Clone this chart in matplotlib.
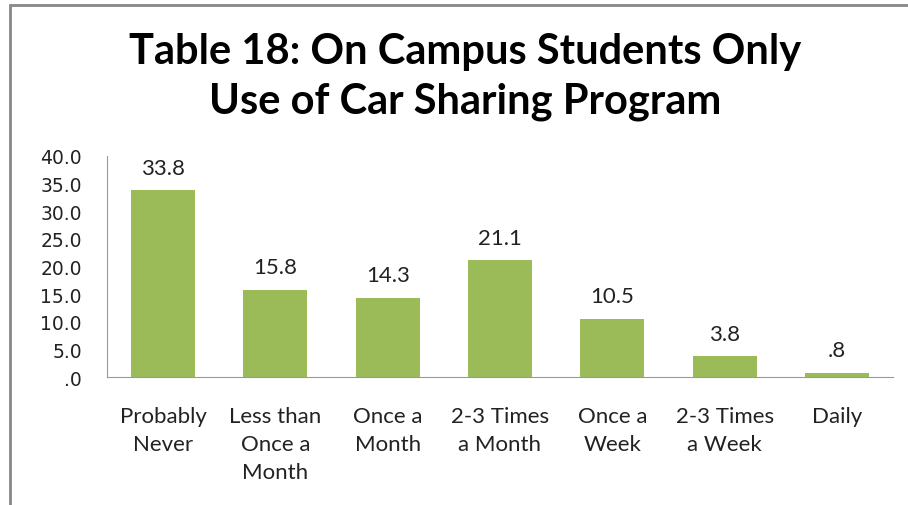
import matplotlib.pyplot as plt
from matplotlib.patches import Rectangle

categories = ["Probably\nNever", "Less than\nOnce a\nMonth", "Once a\nMonth",
              "2-3 Times\na Month", "Once a\nWeek", "2-3 Times\na Week", "Daily"]
values = [33.8, 15.8, 14.3, 21.1, 10.5, 3.8, 0.8]
value_labels = ["33.8", "15.8", "14.3", "21.1", "10.5", "3.8", ".8"]
y_ticks = [0, 5, 10, 15, 20, 25, 30, 35, 40]
y_tick_labels = [".0", "5.0", "10.0", "15.0", "20.0", "25.0", "30.0", "35.0", "40.0"]

W, H = 908, 506
fig = plt.figure(figsize=(W / 100, H / 100), dpi=100)

# outer frame (cut off on the right and bottom)
fig.patches.append(Rectangle((10 / W, -0.1), 1.2, (H - 6) / H + 0.1,
                             transform=fig.transFigure, fill=False,
                             edgecolor="#888888", linewidth=2))

ax = fig.add_axes([107 / W, (H - 378) / H, (893 - 107) / W, (378 - 157) / H])
x = range(len(categories))
ax.bar(x, values, width=0.57, color="#9BBB59")
ax.set_xlim(-0.5, len(categories) - 0.5)
ax.set_ylim(0, 40)
ax.set_yticks(y_ticks)
ax.set_yticklabels(y_tick_labels, fontsize=13.5, color="#222222", family="DejaVu Sans")
ax.set_xticks(list(x))
ax.set_xticklabels(categories, fontsize=16, family="Lato", color="#222222", linespacing=1.5)
ax.tick_params(length=0)
ax.tick_params(axis="y", pad=18)
ax.tick_params(axis="x", pad=21)
for s in ["top", "right"]:
    ax.spines[s].set_visible(False)
for s in ["left", "bottom"]:
    ax.spines[s].set_color("#999999")

for i, (v, lab) in enumerate(zip(values, value_labels)):
    ax.annotate(lab, (i, v), xytext=(0, 9), textcoords="offset points",
                ha="center", va="bottom", fontsize=16, family="Lato", color="#222222")

tx = 465 / W
fig.text(tx, (H - 52) / H, "Table 18: On Campus Students Only", ha="center", va="center",
         fontsize=30, fontweight="bold", family="Lato")
fig.text(tx, (H - 102) / H, "Use of Car Sharing Program", ha="center", va="center",
         fontsize=30, fontweight="bold", family="Lato")

fig.savefig("out.png", dpi=100)
